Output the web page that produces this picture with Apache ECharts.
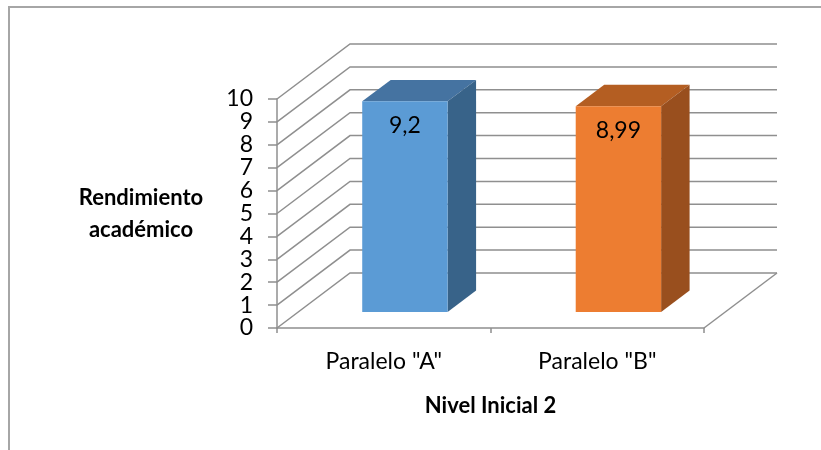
<!DOCTYPE html>
<html><head><meta charset="utf-8">
<script src="https://cdn.jsdelivr.net/npm/echarts@6/dist/echarts.min.js"></script>
<style>html,body{margin:0;padding:0;background:#fff}#c{width:821px;height:450px}</style>
</head><body><div id="c"></div>
<script>
// ---- data ----
const categories = ['Paralelo "A"', 'Paralelo "B"'];
const values = [9.2, 8.99];
const valueLabels = ['9,2', '8,99'];
const yTicks = [0, 1, 2, 3, 4, 5, 6, 7, 8, 9, 10];
const xAxisTitle = 'Nivel Inicial 2';
const yAxisTitle = 'Rendimiento\nacadémico';

// ---- style ----
const FONT = 'Lato';
const DEPTH_X = 73, DEPTH_Y = -55;      // full depth of the 3D box (px)
const BAR_D0 = 0.29, BAR_D = 0.39;      // bar depth start / thickness (fraction)
const BAR_W = 0.40;                     // bar width (fraction of band)
const GRID_COLOR = '#8f8f8f';
const faceColors = [
  { front: '#5B9BD5', top: '#4573A1', side: '#386389' },
  { front: '#ED7D31', top: '#B45E22', side: '#994F1E' }
];

const chart = echarts.init(document.getElementById('c'), null, { renderer: 'canvas' });

function renderWall(params, api) {
  const cs = params.coordSys;
  const t = api.value(1);
  const y = api.coord([0, t])[1];
  const x0 = cs.x, x1 = cs.x + cs.width;
  const children = [{
    type: 'polyline',
    shape: { points: [[x0, y], [x0 + DEPTH_X, y + DEPTH_Y], [x1 + DEPTH_X, y + DEPTH_Y]] },
    style: { stroke: GRID_COLOR, lineWidth: 1.5, fill: null }
  }];
  if (t === 0) {
    children.push({
      type: 'line',
      shape: { x1: x1, y1: y, x2: x1 + DEPTH_X, y2: y + DEPTH_Y },
      style: { stroke: GRID_COLOR, lineWidth: 1.5 }
    });
  }
  return { type: 'group', children: children };
}

function renderBar(params, api) {
  const idx = api.value(0), v = api.value(1);
  const base = api.coord([idx, 0]);
  const top = api.coord([idx, v]);
  const band = api.size([1, 0])[0];
  const w = band * BAR_W;
  const ox = DEPTH_X * BAR_D0, oy = DEPTH_Y * BAR_D0;
  const dx = DEPTH_X * BAR_D, dy = DEPTH_Y * BAR_D;
  const xl = base[0] + ox - w / 2, xr = xl + w;
  const yb = base[1] + oy, yt = top[1] + oy;
  const c = faceColors[idx];
  return {
    type: 'group',
    children: [
      { type: 'polygon', shape: { points: [[xl, yt], [xr, yt], [xr + dx, yt + dy], [xl + dx, yt + dy]] }, style: { fill: c.top } },
      { type: 'polygon', shape: { points: [[xr, yt], [xr + dx, yt + dy], [xr + dx, yb + dy], [xr, yb]] }, style: { fill: c.side } },
      { type: 'rect', shape: { x: xl, y: yt, width: w, height: yb - yt }, style: { fill: c.front } },
      { type: 'text', style: { text: valueLabels[idx], x: xl + w / 2, y: yt + 24, align: 'center', verticalAlign: 'middle', fontFamily: FONT, fontSize: 23, fill: '#000' } }
    ]
  };
}

chart.setOption({
  backgroundColor: '#fff',
  animation: false,
  graphic: [{
    type: 'rect', shape: { x: 9, y: 7, width: 900, height: 600 },
    style: { fill: null, stroke: '#a6a6a6', lineWidth: 2 }, z: 0
  }],
  grid: { left: 277, right: 117, top: 99, bottom: 122 },
  xAxis: {
    type: 'category', data: categories,
    axisLine: { show: true, lineStyle: { color: GRID_COLOR, width: 1.5 } },
    axisTick: { show: true, length: 5, alignWithLabel: false, lineStyle: { color: GRID_COLOR, width: 1.5 } },
    axisLabel: { fontFamily: FONT, fontSize: 23, color: '#000', margin: 22 },
    name: xAxisTitle, nameLocation: 'middle', nameGap: 67,
    nameTextStyle: { fontFamily: FONT, fontSize: 22, fontWeight: 'bold', color: '#000' }
  },
  yAxis: {
    type: 'value', min: 0, max: 10, interval: 1,
    splitLine: { show: false },
    axisLine: { show: true, lineStyle: { color: GRID_COLOR, width: 1.5 } },
    axisTick: { show: true, length: 9, lineStyle: { color: GRID_COLOR, width: 1.5 } },
    axisLabel: { fontFamily: FONT, fontSize: 23, color: '#000', margin: 24 },
    name: yAxisTitle, nameLocation: 'middle', nameRotate: 0, nameGap: 136,
    nameTextStyle: { fontFamily: FONT, fontSize: 22, fontWeight: 'bold', color: '#000', align: 'center', lineHeight: 32 }
  },
  series: [
    { type: 'custom', renderItem: renderWall, data: yTicks.map(t => [0, t]), encode: { x: 0, y: 1 }, z: 1, silent: true },
    { type: 'custom', renderItem: renderBar, data: values.map((v, i) => [i, v]), encode: { x: 0, y: 1 }, z: 3 }
  ]
});
</script>
</body></html>
